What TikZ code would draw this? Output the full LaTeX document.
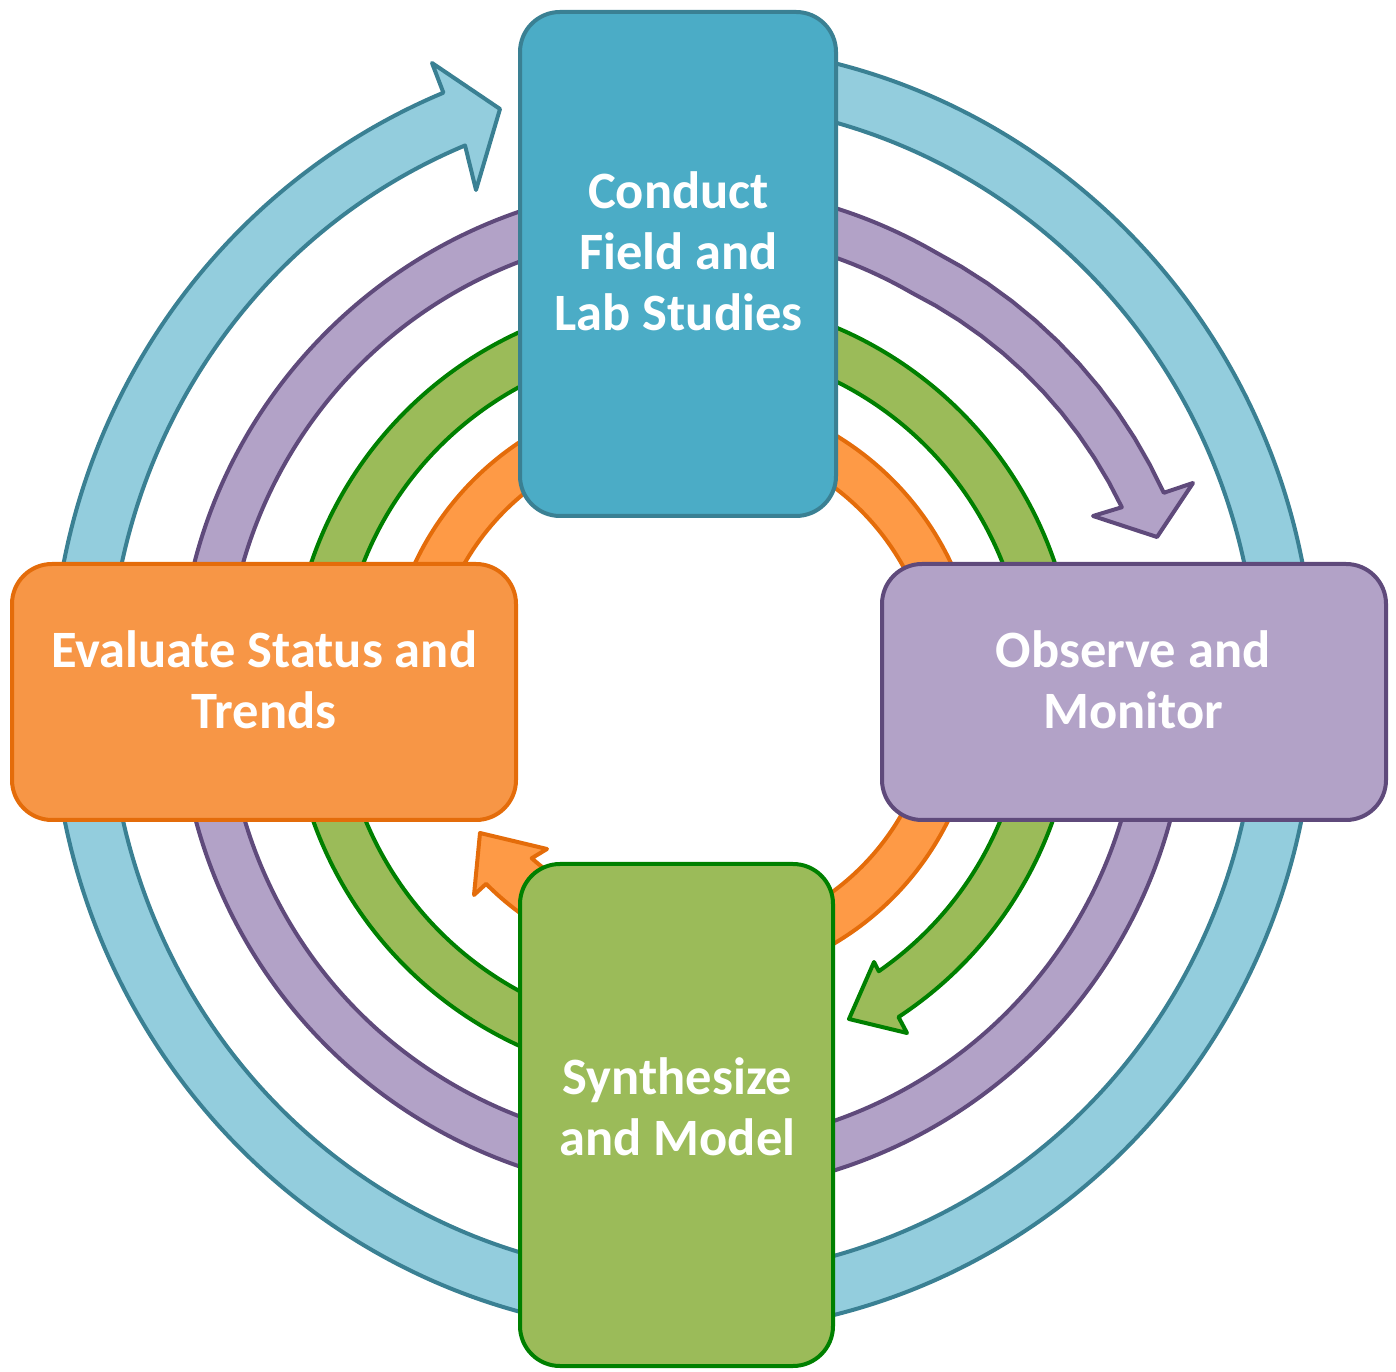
\documentclass[tikz,border=0pt]{standalone}
\usepackage{fontspec}
\setmainfont{Carlito}
\definecolor{bluefill}{HTML}{4BACC6}
\definecolor{bluering}{HTML}{93CDDD}
\definecolor{bluedraw}{HTML}{3A8093}
\definecolor{purfill}{HTML}{B2A2C7}
\definecolor{purdraw}{HTML}{5F4A7B}
\definecolor{grnfill}{HTML}{9BBB59}
\definecolor{grndraw}{HTML}{008000}
\definecolor{orgfill}{HTML}{F79646}
\definecolor{orgring}{HTML}{FE9A46}
\definecolor{orgdraw}{HTML}{E46C0A}
\begin{document}
\begin{tikzpicture}[x=1pt,y=1pt,
  ring/.style={line width=4pt, line join=round},
  box/.style={rectangle, rounded corners=40pt, line width=4pt, inner sep=0pt},
  lbl/.style={text=white, font=\fontsize{52.5}{61}\selectfont\bfseries, anchor=base, inner sep=0pt}]
\useasboundingbox (0,0) rectangle (1396,1371);
\begin{scope}[shift={(683,682)}]
% outer blue ring (arrow into Conduct)
\draw[ring, draw=bluedraw, fill=bluering]
  (0,644.5) arc[start angle=90, end angle=-247.7, x radius=631.5pt, y radius=644.5pt]
  -- (-251,626) -- (-183,580) -- (-207,499)
  -- ({574.5*cos(112.3)},{587.5*sin(112.3)})
  arc[start angle=-247.7, end angle=90, x radius=574.5pt, y radius=587.5pt] -- cycle;
% purple ring (arrow into Observe)
\draw[ring, draw=purdraw, fill=purfill]
  (0:504.5) arc[start angle=0, end angle=-300, radius=504.5pt]
  -- plot[domain=-300:-337.8, samples=12] (\x:{504.5+14.8*(-300-(\x))/37.8})
  -- (510,206) -- (474,152) -- (410,173)
  -- plot[domain=-337.5:-300, samples=12] (\x:{457.5+17.5*(-300-(\x))/37.5})
  arc[start angle=-300, end angle=0, radius=457.5pt] -- cycle;
% green ring (arrow into Synthesize)
\draw[ring, draw=grndraw, fill=grnfill]
  (-90:392.5) arc[start angle=-90, end angle=-416.7, radius=392.5pt]
  -- (224,-344) -- (166,-330) -- (191,-273)
  -- (-55.25:343.5) arc[start angle=-415.25, end angle=-90, radius=343.5pt] -- cycle;
% orange ring (arrow into Evaluate)
\draw[ring, draw=orgdraw, fill=orgring]
  (180:296) arc[start angle=180, end angle=-100, radius=296pt]
  -- (-118:277) arc[start angle=-118, end angle=-135.3, radius=277pt]
  -- (-209,-206) -- (-203,-144) -- (-136,-160)
  -- (-131.8:227) arc[start angle=-131.8, end angle=-118, radius=227pt]
  -- (-100:252) arc[start angle=-100, end angle=180, radius=252pt] -- cycle;
\end{scope}
% boxes
\node[box, draw=bluedraw, fill=bluefill, minimum width=316pt, minimum height=504pt] (conduct) at (678,1107) {};
\node[box, draw=purdraw, fill=purfill, minimum width=504pt, minimum height=256pt] (observe) at (1134,679) {};
\node[box, draw=grndraw, fill=grnfill, minimum width=313pt, minimum height=502pt] (synth) at (676.5,256) {};
\node[box, draw=orgdraw, fill=orgfill, minimum width=504pt, minimum height=256pt] (evaluate) at (264,679) {};
% labels
\node[lbl] (conductt) at (678.5,1162) {\begin{tabular}[t]{@{}c@{}}Conduct\\Field and\\Lab Studies\end{tabular}};
\node[lbl] (observet) at (1133,703) {\begin{tabular}[t]{@{}c@{}}Observe and\\Monitor\end{tabular}};
\node[lbl] (syntht) at (677.5,277) {\begin{tabular}[t]{@{}c@{}}Synthesize\\and Model\end{tabular}};
\node[lbl] (evaluatet) at (264,703) {\begin{tabular}[t]{@{}c@{}}Evaluate Status and\\Trends\end{tabular}};
\end{tikzpicture}
\end{document}
